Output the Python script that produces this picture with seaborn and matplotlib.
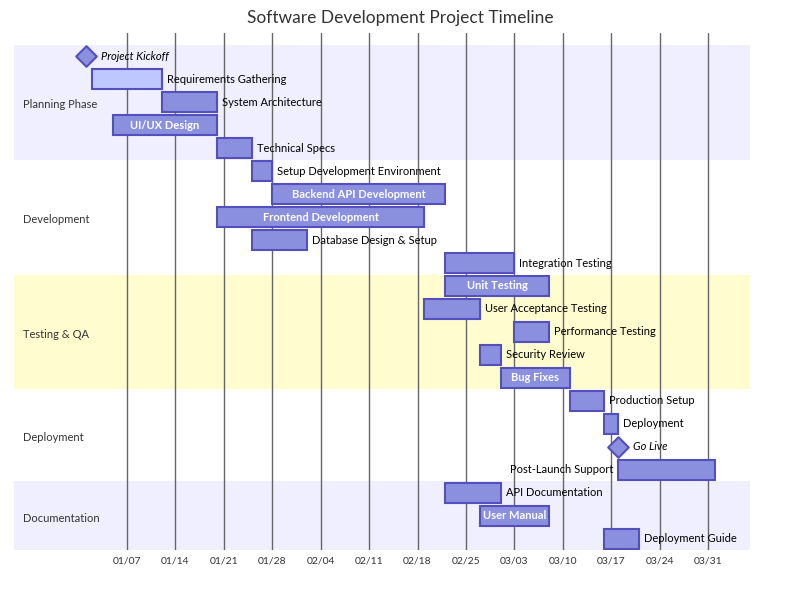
import matplotlib
matplotlib.use('Agg')
import matplotlib.pyplot as plt
import matplotlib.dates as mdates
import matplotlib.transforms as mtransforms
import seaborn as sns
import pandas as pd
import numpy as np

# Sections (in display order) and how many rows each holds
sections = ['Planning Phase', 'Development', 'Testing & QA', 'Deployment', 'Documentation']
section_sizes = [5, 5, 5, 4, 3]
section_colors = ['#efefff', '#ffffff', '#fffdd0', '#ffffff', '#efefff']

# Tasks
task_names = ['Project Kickoff', 'Requirements Gathering', 'System Architecture', 'UI/UX Design',
              'Technical Specs', 'Setup Development Environment', 'Backend API Development',
              'Frontend Development', 'Database Design & Setup', 'Integration Testing',
              'Unit Testing', 'User Acceptance Testing', 'Performance Testing', 'Security Review',
              'Bug Fixes', 'Production Setup', 'Deployment', 'Go Live', 'Post-Launch Support',
              'API Documentation', 'User Manual', 'Deployment Guide']
task_start = ['2024-01-01', '2024-01-02', '2024-01-12', '2024-01-05', '2024-01-20',
              '2024-01-25', '2024-01-28', '2024-01-20', '2024-01-25', '2024-02-22',
              '2024-02-22', '2024-02-19', '2024-03-03', '2024-02-27', '2024-03-01',
              '2024-03-11', '2024-03-16', '2024-03-18', '2024-03-18', '2024-02-22',
              '2024-02-27', '2024-03-16']
task_end = ['2024-01-01', '2024-01-12', '2024-01-20', '2024-01-20', '2024-01-25',
            '2024-01-28', '2024-02-22', '2024-02-19', '2024-02-02', '2024-03-03',
            '2024-03-08', '2024-02-27', '2024-03-08', '2024-03-01', '2024-03-11',
            '2024-03-16', '2024-03-18', '2024-03-18', '2024-04-01', '2024-03-01',
            '2024-03-08', '2024-03-21']
task_kind = ['milestone', 'active', 'task', 'task', 'task', 'task', 'task', 'task', 'task', 'task',
             'task', 'task', 'task', 'task', 'task', 'task', 'task', 'milestone', 'task',
             'task', 'task', 'task']

# Weekly axis ticks
tick_dates = ['2024-01-07', '2024-01-14', '2024-01-21', '2024-01-28', '2024-02-04', '2024-02-11',
              '2024-02-18', '2024-02-25', '2024-03-03', '2024-03-10', '2024-03-17', '2024-03-24',
              '2024-03-31']

df = pd.DataFrame({
    'name': task_names,
    'start': pd.to_datetime(task_start),
    'end': pd.to_datetime(task_end),
    'kind': task_kind,
    'section': np.repeat(sections, section_sizes),
})
df['row'] = np.arange(len(df))
df['x0'] = mdates.date2num(df['start'])
df['x1'] = mdates.date2num(df['end'])

sns.set_theme(style='white')
plt.rcParams['font.family'] = ['Lato', 'DejaVu Sans']

fig = plt.figure(figsize=(8, 6), dpi=100)
ax = fig.add_axes([14 / 800, 1 - 550 / 600, 736 / 800, 517 / 600])

ref = mdates.date2num(pd.Timestamp('2024-01-07'))
ax.set_xlim(ref - 16.34, ref + 90.07)
ax.set_ylim(len(df) - 0.5, -1.02)

# section bands
r0 = 0
for name, size, col in zip(sections, section_sizes, section_colors):
    ax.axhspan(r0 - 0.5, r0 + size - 0.5, color=col, zorder=0, lw=0)
    r0 += size

# weekly grid
ticks = mdates.date2num(pd.to_datetime(tick_dates))
for t in ticks:
    ax.axvline(t, color='#666666', lw=1, zorder=1)

# task bars
bars = df[df['kind'] != 'milestone']
fills = np.where(bars['kind'] == 'active', '#bfc7ff', '#8a90dd')
ax.barh(bars['row'], bars['x1'] - bars['x0'], left=bars['x0'], height=0.87,
        color=fills, edgecolor='#534fbc', linewidth=1.5, zorder=2)

# milestones
ms = df[df['kind'] == 'milestone']
sns.scatterplot(x=ms['x0'], y=ms['row'], marker='D', s=110, color='#8a90dd',
                edgecolor='#534fbc', linewidth=1.5, zorder=3, ax=ax, legend=False)

# labels
fig.canvas.draw()
renderer = fig.canvas.get_renderer()
right_px = ax.transAxes.transform((1, 0))[0]
right_off = mtransforms.offset_copy(ax.transData, fig=fig, x=5, y=0, units='dots')
left_off = mtransforms.offset_copy(ax.transData, fig=fig, x=-5, y=0, units='dots')
ms_off = mtransforms.offset_copy(ax.transData, fig=fig, x=15, y=0, units='dots')
fs = 8
for _, r in df.iterrows():
    if r['kind'] == 'milestone':
        ax.text(r['x0'], r['row'], r['name'], transform=ms_off, ha='left', va='center',
                fontsize=fs, style='italic', color='#000000', zorder=4)
        continue
    px0 = ax.transData.transform((r['x0'], 0))[0]
    px1 = ax.transData.transform((r['x1'], 0))[0]
    t = ax.text((r['x0'] + r['x1']) / 2, r['row'], r['name'], ha='center', va='center',
                fontsize=fs, color='white', fontweight='bold', zorder=4)
    w = t.get_window_extent(renderer).width
    if w > px1 - px0:
        t.set_fontweight('normal')
        t.set_color('#000000')
        if px1 + w + 10 > right_px:
            t.set_position((r['x0'], r['row']))
            t.set_transform(left_off)
            t.set_ha('right')
        else:
            t.set_position((r['x1'], r['row']))
            t.set_transform(right_off)
            t.set_ha('left')

# section labels
blend = mtransforms.blended_transform_factory(ax.transAxes, ax.transData)
sec_off = mtransforms.offset_copy(blend, fig=fig, x=0, y=-2.5, units='dots')
r0 = 0
for name, size in zip(sections, section_sizes):
    ax.text(9 / 736, r0 + (size - 1) / 2, name, transform=sec_off, ha='left', va='center',
            fontsize=fs, color='#333333', zorder=4)
    r0 += size

ax.set_xticks(ticks)
ax.xaxis.set_major_formatter(mdates.DateFormatter('%m/%d'))
ax.tick_params(axis='x', length=0, pad=5, labelsize=7.5, labelcolor='#333333')
ax.set_yticks([])
ax.set_xlabel('')
ax.set_ylabel('')
for s in ax.spines.values():
    s.set_visible(False)
ax.set_facecolor('white')

fig.text(0.5, 1 - 18 / 600, 'Software Development Project Timeline', ha='center', va='center',
         fontsize=12.5, color='#333333')

fig.savefig('out.png', dpi=100)
